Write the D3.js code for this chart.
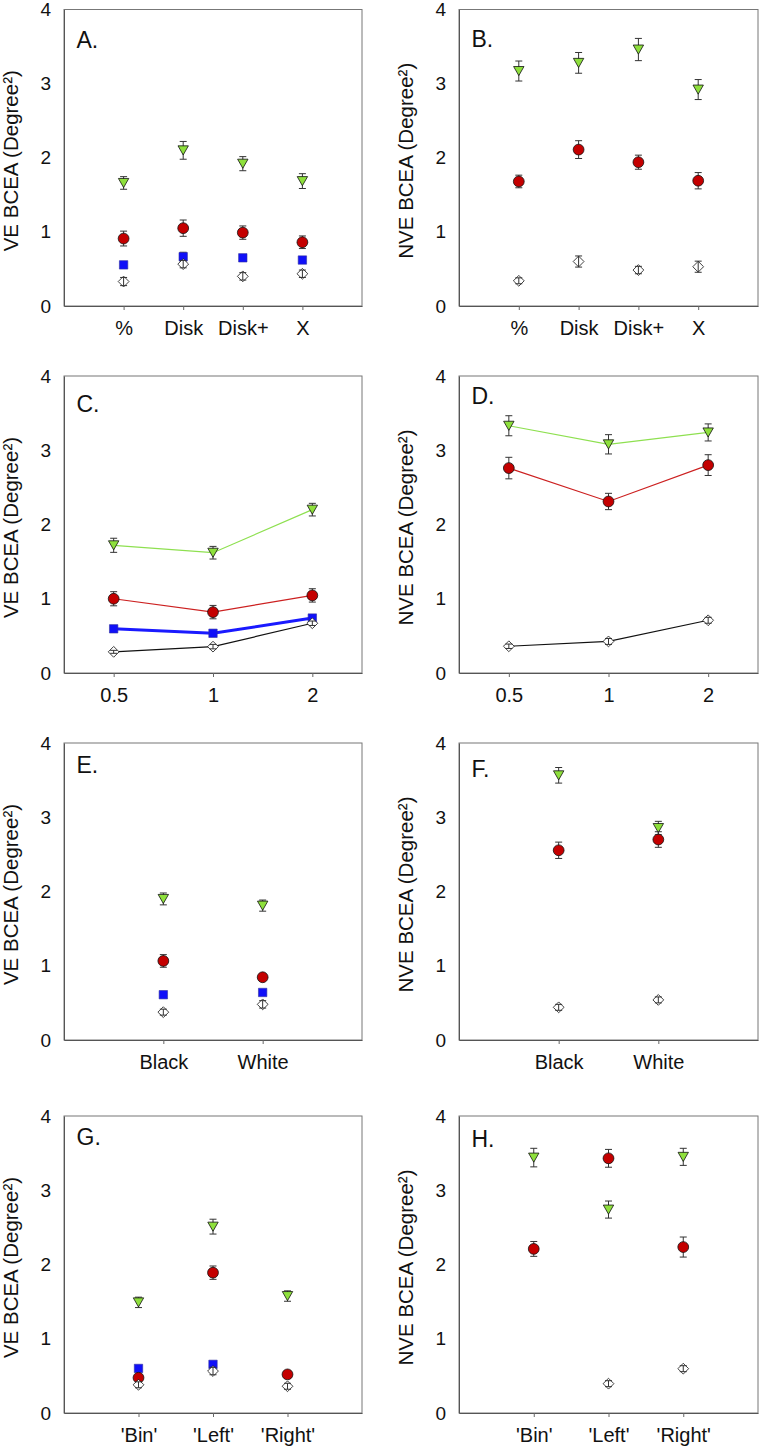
<!DOCTYPE html>
<html><head><meta charset="utf-8">
<script src="https://cdn.jsdelivr.net/npm/d3@7"></script>
<style>body{margin:0;background:#fff}svg{display:block}text{font-family:"Liberation Sans",Arial,sans-serif;fill:#111}</style>
</head><body><svg id="c" width="761" height="1452"></svg>
<script>
// ---------- DATA ----------
const catsAB = ["%", "Disk", "Disk+", "X"];
const catsCD = ["0.5", "1", "2"];
const catsEF = ["Black", "White"];
const catsGH = ["'Bin'", "'Left'", "'Right'"];
const yTicks = [0, 1, 2, 3, 4];

// Panel A (VE)
const aGreen = [1.66, 2.10, 1.92, 1.685], aGreenErr = [0.085, 0.12, 0.095, 0.10];
const aRed = [0.91, 1.05, 0.99, 0.86], aRedErr = [0.10, 0.11, 0.09, 0.085];
const aBlue = [0.555, 0.665, 0.65, 0.62], aBlueErr = [0.03, 0.06, 0.03, 0.03];
const aDiam = [0.33, 0.565, 0.40, 0.435], aDiamErr = [0.055, 0.05, 0.05, 0.05];
// Panel B (NVE)
const bGreen = [3.17, 3.28, 3.46, 2.92], bGreenErr = [0.135, 0.14, 0.15, 0.135];
const bRed = [1.68, 2.11, 1.94, 1.69], bRedErr = [0.085, 0.12, 0.095, 0.11];
const bDiam = [0.34, 0.60, 0.485, 0.53], bDiamErr = [0.04, 0.075, 0.05, 0.075];
// Panel C (VE)
const cGreen = [1.72, 1.62, 2.20], cGreenErr = [0.095, 0.085, 0.085];
const cRed = [1.00, 0.82, 1.045], cRedErr = [0.095, 0.09, 0.09];
const cBlue = [0.595, 0.535, 0.74], cBlueErr = [0.03, 0.03, 0.03];
const cDiam = [0.285, 0.355, 0.67], cDiamErr = [0.02, 0.03, 0.03];
// Panel D (NVE)
const dGreen = [3.33, 3.08, 3.24], dGreenErr = [0.135, 0.13, 0.115];
const dRed = [2.76, 2.31, 2.80], dRedErr = [0.145, 0.11, 0.14];
const dDiam = [0.36, 0.425, 0.71], dDiamErr = [0.03, 0.04, 0.04];
// Panel E (VE)
const eGreen = [1.90, 1.81], eGreenErr = [0.08, 0.075];
const eRed = [1.065, 0.845], eRedErr = [0.085, 0.04];
const eBlue = [0.61, 0.64], eBlueErr = [0.03, 0.03];
const eDiam = [0.375, 0.48], eDiamErr = [0.04, 0.05];
// Panel F (NVE)
const fGreen = [3.565, 2.855], fGreenErr = [0.105, 0.09];
const fRed = [2.555, 2.70], fRedErr = [0.11, 0.105];
const fDiam = [0.44, 0.54], fDiamErr = [0.04, 0.04];
// Panel G (VE)
const gGreen = [1.49, 2.51, 1.575], gGreenErr = [0.07, 0.10, 0.07];
const gRed = [0.475, 1.89, 0.52], gRedErr = [0.03, 0.09, 0.03];
const gBlue = [0.60, 0.655, null], gBlueErr = [0.03, 0.03, 0];
const gDiam = [0.38, 0.565, 0.36], gDiamErr = [0.04, 0.05, 0.04];
// Panel H (NVE)
const hGreen = [3.44, 2.74, 3.45], hGreenErr = [0.125, 0.115, 0.115];
const hRed = [2.21, 3.43, 2.235], hRedErr = [0.10, 0.12, 0.135];
const hDiam = [null, 0.395, 0.597], hDiamErr = [0, 0.04, 0.04];

// ---------- STYLE ----------
const STY = {
  green: {fill: "#8ee03c", line: "#8ee050", lw: 1.2, shape: "tri"},
  red:   {fill: "#c40000", line: "#cc2020", lw: 1.2, shape: "circ"},
  blue:  {fill: "#1010f8", line: "#1a1aff", lw: 3, shape: "sq"},
  diam:  {fill: "#ffffff", line: "#111", lw: 1.2, shape: "diam"}
};
const VE = "VE BCEA (Degree\u00B2)", NVE = "NVE BCEA (Degree\u00B2)";

const colX = [[64, 362], [459, 758]];
const rowY = [[9.5, 306], [376, 673], [743, 1040], [1116, 1413]];

const panels = [
  {lab: "A.", col: 0, row: 0, cats: catsAB, pad: 1, lines: false, yl: VE, ld: 38,
   s: [["green", aGreen, aGreenErr], ["blue", aBlue, aBlueErr], ["red", aRed, aRedErr], ["diam", aDiam, aDiamErr]]},
  {lab: "B.", col: 1, row: 0, cats: catsAB, pad: 1, lines: false, yl: NVE, ld: 37,
   s: [["green", bGreen, bGreenErr], ["red", bRed, bRedErr], ["diam", bDiam, bDiamErr]]},
  {lab: "C.", col: 0, row: 1, cats: catsCD, pad: 0.5, lines: true, yl: VE, ld: 36,
   s: [["green", cGreen, cGreenErr], ["red", cRed, cRedErr], ["diam", cDiam, cDiamErr], ["blue", cBlue, cBlueErr]]},
  {lab: "D.", col: 1, row: 1, cats: catsCD, pad: 0.5, lines: true, yl: NVE, ld: 28,
   s: [["green", dGreen, dGreenErr], ["red", dRed, dRedErr], ["diam", dDiam, dDiamErr]]},
  {lab: "E.", col: 0, row: 2, cats: catsEF, pad: 1, lines: false, yl: VE, ld: 30,
   s: [["green", eGreen, eGreenErr], ["blue", eBlue, eBlueErr], ["red", eRed, eRedErr], ["diam", eDiam, eDiamErr]]},
  {lab: "F.", col: 1, row: 2, cats: catsEF, pad: 1, lines: false, yl: NVE, ld: 34,
   s: [["green", fGreen, fGreenErr], ["red", fRed, fRedErr], ["diam", fDiam, fDiamErr]]},
  {lab: "G.", col: 0, row: 3, cats: catsGH, pad: 1, lines: false, yl: VE, ld: 29,
   s: [["green", gGreen, gGreenErr], ["blue", gBlue, gBlueErr], ["red", gRed, gRedErr], ["diam", gDiam, gDiamErr]]},
  {lab: "H.", col: 1, row: 3, cats: catsGH, pad: 1, lines: false, yl: NVE, ld: 31,
   s: [["green", hGreen, hGreenErr], ["red", hRed, hRedErr], ["diam", hDiam, hDiamErr]]}
];

const svg = d3.select("#c");

function symbolPath(shape) {
  if (shape === "tri") return "M-5.2,-4.5L5.2,-4.5L0,4.6Z";
  if (shape === "circ") return d3.symbol(d3.symbolCircle, Math.PI * 5.4 * 5.4)();
  if (shape === "sq") return "M-4.2,-4.2H4.2V4.2H-4.2Z";
  return "M0,-5.4L5.4,0L0,5.4L-5.4,0Z";
}

panels.forEach(p => {
  const [x0, x1] = colX[p.col], [y0, y1] = rowY[p.row];
  const n = p.cats.length;
  const x = d3.scaleLinear().domain([1 - p.pad, n + p.pad]).range([x0, x1]);
  const y = d3.scaleLinear().domain([0, 4]).range([y1, y0]);
  const g = svg.append("g");

  // frame
  g.append("rect").attr("x", x0).attr("y", y0).attr("width", x1 - x0).attr("height", y1 - y0)
    .attr("fill", "none").attr("stroke", "#777").attr("stroke-width", 1);

  // y axis
  const ya = g.append("g").attr("transform", `translate(${x0},0)`)
    .call(d3.axisLeft(y).tickValues(yTicks).tickFormat(d3.format("d")).tickSize(0).tickPadding(13));
  ya.select(".domain").attr("stroke", "#555");
  ya.selectAll("text").attr("font-size", 19).attr("font-family", "Liberation Sans, Arial, sans-serif").attr("fill", "#111");

  // x axis
  const xa = g.append("g").attr("transform", `translate(0,${y1})`)
    .call(d3.axisBottom(x).tickValues(d3.range(1, n + 1)).tickFormat(i => p.cats[i - 1]).tickSize(4).tickSizeOuter(0).tickPadding(11));
  xa.select(".domain").attr("stroke", "#555");
  xa.selectAll("line").attr("stroke", "#666");
  xa.selectAll("text").attr("font-size", 20).attr("font-family", "Liberation Sans, Arial, sans-serif").attr("fill", "#111");

  // y label
  g.append("text").attr("transform", `translate(${x0 - 46},${(y0 + y1) / 2 + 3}) rotate(-90)`)
    .attr("text-anchor", "middle").attr("font-size", 20.5).text(p.yl);

  // panel label
  g.append("text").attr("x", x0 + 12.5).attr("y", y0 + p.ld).attr("font-size", 23).text(p.lab);

  // lines
  if (p.lines) {
    p.s.forEach(([k, vals]) => {
      const line = d3.line().defined(d => d != null).x((d, i) => x(i + 1)).y(d => y(d));
      g.append("path").attr("d", line(vals)).attr("fill", "none")
        .attr("stroke", STY[k].line).attr("stroke-width", STY[k].lw);
    });
  }

  // draw order: green, blue, red, diamond
  const order = ["green", "blue", "red", "diam"];
  order.forEach(k => {
    const ser = p.s.find(s => s[0] === k);
    if (!ser) return;
    const [, vals, errs] = ser;
    const pts = vals.map((v, i) => ({v, e: errs[i], i})).filter(d => d.v != null);
    const drawErr = sel => {
      pts.forEach(d => {
        const cx = x(d.i + 1), yt = y(d.v + d.e), yb = y(d.v - d.e);
        sel.append("line").attr("x1", cx).attr("x2", cx).attr("y1", yt).attr("y2", yb).attr("stroke", "#333").attr("stroke-width", 1);
        sel.append("line").attr("x1", cx - 3.5).attr("x2", cx + 3.5).attr("y1", yt).attr("y2", yt).attr("stroke", "#333").attr("stroke-width", 1);
        sel.append("line").attr("x1", cx - 3.5).attr("x2", cx + 3.5).attr("y1", yb).attr("y2", yb).attr("stroke", "#333").attr("stroke-width", 1);
      });
    };
    const eg = g.append("g");
    if (k !== "diam") drawErr(eg);
    g.append("g").selectAll("path").data(pts).join("path")
      .attr("transform", d => `translate(${x(d.i + 1)},${y(d.v)})`)
      .attr("d", symbolPath(STY[k].shape))
      .attr("fill", STY[k].fill).attr("stroke", k === "blue" ? "#3030a0" : "#111").attr("stroke-width", k === "blue" ? 0.6 : 0.8);
    if (k === "diam") drawErr(g.append("g"));
  });
});
</script></body></html>
